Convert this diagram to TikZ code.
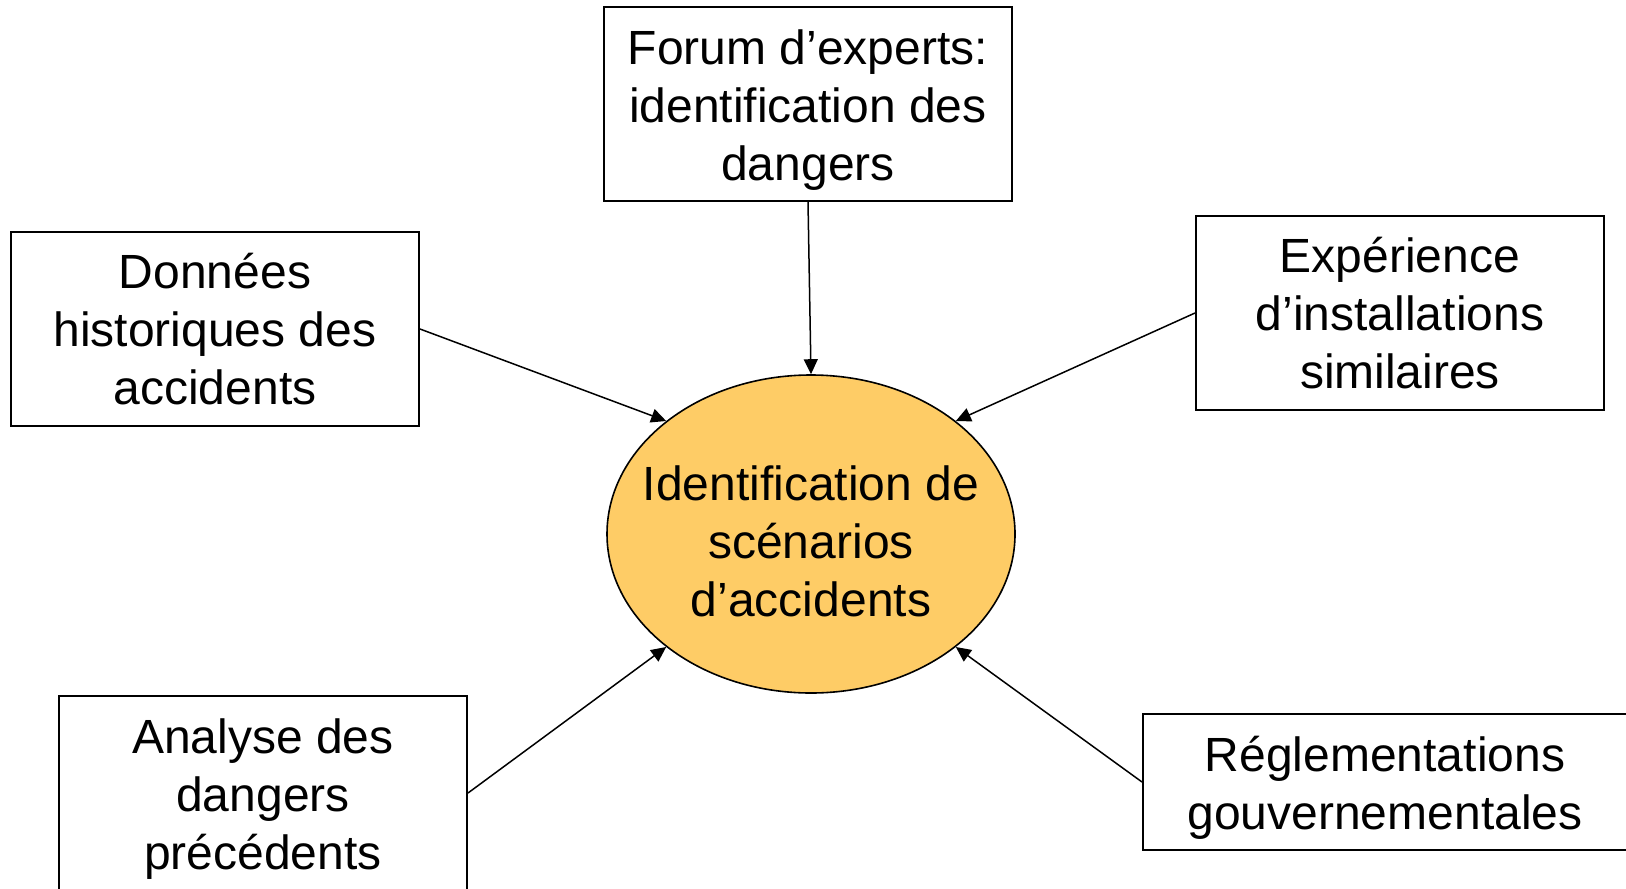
\documentclass[tikz,border=0pt]{standalone}
\usepackage{fontspec}
\setmainfont{Liberation Sans}
\usetikzlibrary{arrows.meta,shapes.geometric}
\definecolor{scenario}{RGB}{254,204,102}
% first-line strut, pushes the text block a bit lower
\newcommand{\lowtext}[1]{\rule{0pt}{#1}}
\tikzset{
    source/.style={draw, line width=1pt, minimum width=204pt, minimum height=97pt,
        align=center, inner sep=0pt, font=\fontsize{24}{29}\selectfont},
    central/.style={draw, ellipse, fill=scenario, line width=0.8pt, minimum width=204pt,
        minimum height=159pt, align=center, inner xsep=-12pt, inner ysep=0pt,
        font=\fontsize{24}{29}\selectfont},
    feed/.style={line width=0.75pt, -{Triangle[length=7.5pt,width=7pt]}}
}
\begin{document}
\begin{tikzpicture}[x=0.5pt,y=-0.5pt]
    \clip (0,0) rectangle (1626,888);

    % Centre
    \node [central] (scen) at (811,534)
        {\lowtext{24.5pt}Identification de\\scénarios\\d’accidents};

    % Boxes
    \node [source] (forum) at (808,104)
        {\lowtext{23.4pt}Forum d’experts:\\identification des\\dangers};
    \node [source] (histo) at (215,329) {Données\\historiques des\\accidents};
    \node [source] (exper) at (1400,313) {Expérience\\d’installations\\similaires};
    \node [source] (prec)  at (263,793)
        {\lowtext{23.4pt}Analyse des\\dangers\\précédents};
    \node [source, minimum width=242pt, minimum height=68pt] (regl) at (1385,782)
        {\lowtext{23.4pt}Réglementations\\gouvernementales};

    % Arrows
    \draw [feed] (forum.south) -- (scen.north);
    \draw [feed] (histo.east)  -- (scen.north west);
    \draw [feed] (exper.west)  -- (scen.north east);
    \draw [feed] (prec.east)   -- (scen.south west);
    \draw [feed] (regl.west)   -- (scen.south east);
\end{tikzpicture}
\end{document}
